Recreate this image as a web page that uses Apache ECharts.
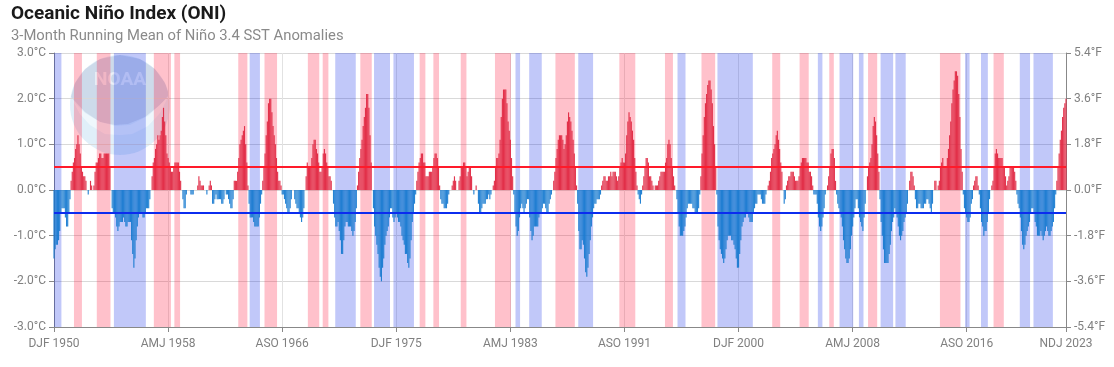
<!DOCTYPE html>
<html>
<head>
<meta charset="utf-8">
<script src="https://cdn.jsdelivr.net/npm/echarts@6/dist/echarts.min.js"></script>
<style>
  html, body { margin: 0; padding: 0; background: #fff; }
  #chart { width: 1114px; height: 367px; }
</style>
</head>
<body>
<div id="chart"></div>
<script>
// ---- DATA ----
const seasons = ['DJF','JFM','FMA','MAM','AMJ','MJJ','JJA','JAS','ASO','SON','OND','NDJ'];
const firstYear = 1950;
const lastYear = 2023;

// ONI values (°C), one row per year, DJF ... NDJ
const oni = [
 -1.5,-1.3,-1.2,-1.2,-1.1,-0.9,-0.5,-0.4,-0.4,-0.4,-0.6,-0.8, // 1950
 -0.8,-0.5,-0.2, 0.2, 0.4, 0.6, 0.7, 0.9, 1.0, 1.2, 1.0, 0.8, // 1951
  0.5, 0.4, 0.3, 0.3, 0.2, 0.0,-0.1, 0.0, 0.2, 0.1, 0.0, 0.1, // 1952
  0.4, 0.6, 0.6, 0.7, 0.8, 0.8, 0.7, 0.7, 0.8, 0.8, 0.8, 0.8, // 1953
  0.8, 0.5, 0.0,-0.4,-0.5,-0.5,-0.6,-0.8,-0.9,-0.8,-0.7,-0.7, // 1954
 -0.7,-0.6,-0.7,-0.8,-0.8,-0.7,-0.7,-0.7,-1.1,-1.4,-1.7,-1.5, // 1955
 -1.1,-0.8,-0.6,-0.5,-0.5,-0.5,-0.6,-0.6,-0.5,-0.4,-0.4,-0.4, // 1956
 -0.2, 0.0, 0.3, 0.6, 0.7, 0.9, 1.0, 1.2, 1.1, 1.2, 1.3, 1.6, // 1957
  1.8, 1.5, 1.2, 0.8, 0.7, 0.6, 0.5, 0.4, 0.4, 0.5, 0.6, 0.6, // 1958
  0.6, 0.6, 0.4, 0.2, 0.0,-0.2,-0.4,-0.4,-0.1, 0.0, 0.0, 0.0, // 1959
 -0.1,-0.1,-0.1, 0.0, 0.0, 0.0, 0.1, 0.3, 0.2, 0.1, 0.1, 0.1, // 1960
  0.0, 0.0,-0.1, 0.0, 0.1, 0.2, 0.1,-0.3,-0.3,-0.2,-0.1,-0.2, // 1961
 -0.2,-0.2,-0.2,-0.3,-0.3,-0.2, 0.0,-0.1,-0.1,-0.2,-0.3,-0.4, // 1962
 -0.4,-0.2, 0.2, 0.2, 0.2, 0.4, 0.7, 1.0, 1.1, 1.2, 1.3, 1.4, // 1963
  1.0, 0.6, 0.1,-0.3,-0.6,-0.6,-0.6,-0.7,-0.8,-0.8,-0.8,-0.8, // 1964
 -0.6,-0.3,-0.1, 0.2, 0.5, 0.8, 1.2, 1.5, 1.9, 2.0, 2.0, 1.7, // 1965
  1.4, 1.2, 1.0, 0.7, 0.4, 0.2, 0.2, 0.1,-0.1,-0.1,-0.2,-0.3, // 1966
 -0.4,-0.5,-0.5,-0.4,-0.2, 0.0, 0.0,-0.2,-0.3,-0.4,-0.4,-0.5, // 1967
 -0.6,-0.7,-0.6,-0.4, 0.0, 0.3, 0.6, 0.5, 0.5, 0.5, 0.7, 1.0, // 1968
  1.1, 1.1, 0.9, 0.8, 0.6, 0.4, 0.4, 0.5, 0.8, 0.9, 0.8, 0.6, // 1969
  0.5, 0.3, 0.3, 0.2, 0.0,-0.3,-0.6,-0.8,-0.8,-0.7,-0.9,-1.1, // 1970
 -1.4,-1.4,-1.1,-0.8,-0.7,-0.7,-0.8,-0.8,-0.8,-0.9,-1.0,-0.9, // 1971
 -0.7,-0.4, 0.1, 0.4, 0.7, 0.9, 1.1, 1.4, 1.6, 1.8, 2.1, 2.1, // 1972
  1.8, 1.2, 0.6, 0.0,-0.4,-0.8,-1.0,-1.2,-1.4,-1.7,-1.9,-2.0, // 1973
 -1.7,-1.5,-1.2,-1.0,-0.9,-0.8,-0.6,-0.4,-0.4,-0.6,-0.7,-0.6, // 1974
 -0.5,-0.6,-0.7,-0.7,-0.8,-1.0,-1.1,-1.2,-1.4,-1.4,-1.6,-1.7, // 1975
 -1.5,-1.1,-0.7,-0.5,-0.3,-0.1, 0.2, 0.4, 0.6, 0.7, 0.8, 0.8, // 1976
  0.6, 0.6, 0.3, 0.3, 0.3, 0.4, 0.4, 0.4, 0.5, 0.7, 0.8, 0.8, // 1977
  0.7, 0.5, 0.1,-0.2,-0.3,-0.3,-0.4,-0.4,-0.4,-0.3,-0.1, 0.0, // 1978
  0.0, 0.1, 0.2, 0.3, 0.2, 0.0, 0.0, 0.2, 0.3, 0.5, 0.5, 0.6, // 1979
  0.6, 0.5, 0.3, 0.4, 0.5, 0.5, 0.3, 0.0,-0.1, 0.0, 0.1, 0.0, // 1980
 -0.3,-0.5,-0.5,-0.4,-0.3,-0.3,-0.3,-0.2,-0.2,-0.1,-0.2,-0.1, // 1981
  0.0, 0.1, 0.2, 0.5, 0.7, 0.7, 0.8, 1.1, 1.6, 2.0, 2.2, 2.2, // 1982
  2.2, 1.9, 1.5, 1.3, 1.1, 0.7, 0.3,-0.1,-0.5,-0.8,-1.0,-0.9, // 1983
 -0.6,-0.4,-0.3,-0.4,-0.5,-0.4,-0.3,-0.2,-0.2,-0.6,-0.9,-1.1, // 1984
 -1.0,-0.8,-0.8,-0.8,-0.8,-0.6,-0.5,-0.5,-0.4,-0.3,-0.3,-0.4, // 1985
 -0.5,-0.5,-0.3,-0.2,-0.1, 0.0, 0.2, 0.4, 0.7, 0.9, 1.1, 1.2, // 1986
  1.2, 1.2, 1.1, 0.9, 1.0, 1.2, 1.5, 1.7, 1.6, 1.5, 1.3, 1.1, // 1987
  0.8, 0.5, 0.1,-0.3,-0.9,-1.3,-1.3,-1.1,-1.2,-1.5,-1.8,-1.9, // 1988
 -1.7,-1.4,-1.1,-0.8,-0.6,-0.4,-0.3,-0.3,-0.2,-0.2,-0.2,-0.1, // 1989
  0.1, 0.2, 0.3, 0.3, 0.2, 0.2, 0.3, 0.3, 0.4, 0.3, 0.4, 0.4, // 1990
  0.4, 0.3, 0.2, 0.3, 0.5, 0.6, 0.7, 0.6, 0.6, 0.8, 1.2, 1.5, // 1991
  1.7, 1.6, 1.5, 1.3, 1.1, 0.7, 0.4, 0.1,-0.1,-0.2,-0.3,-0.1, // 1992
  0.1, 0.3, 0.5, 0.7, 0.7, 0.6, 0.3, 0.3, 0.2, 0.1, 0.0, 0.1, // 1993
  0.1, 0.1, 0.2, 0.3, 0.4, 0.4, 0.4, 0.4, 0.6, 0.7, 1.0, 1.1, // 1994
  1.0, 0.7, 0.5, 0.3, 0.1, 0.0,-0.2,-0.5,-0.8,-1.0,-1.0,-1.0, // 1995
 -0.9,-0.8,-0.6,-0.4,-0.3,-0.3,-0.3,-0.3,-0.4,-0.4,-0.5,-0.5, // 1996
 -0.5,-0.4,-0.1, 0.3, 0.8, 1.2, 1.6, 1.9, 2.1, 2.3, 2.4, 2.4, // 1997
  2.2, 1.9, 1.4, 1.0, 0.5,-0.1,-0.8,-1.1,-1.3,-1.4,-1.5,-1.6, // 1998
 -1.5,-1.3,-1.1,-1.0,-1.0,-1.0,-1.1,-1.1,-1.2,-1.3,-1.5,-1.7, // 1999
 -1.7,-1.4,-1.1,-0.8,-0.7,-0.6,-0.6,-0.5,-0.5,-0.6,-0.7,-0.7, // 2000
 -0.7,-0.5,-0.4,-0.3,-0.3,-0.1,-0.1,-0.1,-0.2,-0.3,-0.3,-0.3, // 2001
 -0.1, 0.0, 0.1, 0.2, 0.4, 0.7, 0.8, 0.9, 1.0, 1.2, 1.3, 1.1, // 2002
  0.9, 0.6, 0.4, 0.0,-0.3,-0.2, 0.1, 0.2, 0.3, 0.3, 0.4, 0.4, // 2003
  0.4, 0.3, 0.2, 0.2, 0.2, 0.3, 0.5, 0.6, 0.7, 0.7, 0.7, 0.7, // 2004
  0.6, 0.6, 0.4, 0.4, 0.3, 0.1,-0.1,-0.1,-0.1,-0.3,-0.6,-0.8, // 2005
 -0.9,-0.8,-0.6,-0.4,-0.1, 0.0, 0.1, 0.3, 0.5, 0.8, 0.9, 0.9, // 2006
  0.7, 0.2,-0.1,-0.3,-0.4,-0.5,-0.6,-0.8,-1.1,-1.3,-1.5,-1.6, // 2007
 -1.6,-1.5,-1.3,-1.0,-0.8,-0.6,-0.4,-0.2,-0.2,-0.4,-0.6,-0.7, // 2008
 -0.8,-0.9,-0.6,-0.3, 0.0, 0.3, 0.5, 0.6, 0.7, 1.0, 1.4, 1.6, // 2009
  1.5, 1.2, 0.8, 0.4,-0.2,-0.7,-1.0,-1.3,-1.6,-1.6,-1.6,-1.6, // 2010
 -1.4,-1.2,-0.9,-0.7,-0.6,-0.4,-0.5,-0.6,-0.8,-1.0,-1.1,-1.0, // 2011
 -0.9,-0.7,-0.6,-0.5,-0.3, 0.0, 0.2, 0.4, 0.4, 0.3, 0.1,-0.2, // 2012
 -0.4,-0.4,-0.3,-0.3,-0.4,-0.4,-0.4,-0.3,-0.3,-0.2,-0.2,-0.3, // 2013
 -0.4,-0.5,-0.3, 0.0, 0.2, 0.2, 0.0, 0.1, 0.2, 0.5, 0.6, 0.7, // 2014
  0.5, 0.5, 0.5, 0.7, 0.9, 1.2, 1.5, 1.9, 2.2, 2.4, 2.6, 2.6, // 2015
  2.5, 2.1, 1.6, 0.9, 0.4,-0.1,-0.4,-0.5,-0.6,-0.7,-0.7,-0.6, // 2016
 -0.3,-0.2, 0.1, 0.2, 0.3, 0.3, 0.1,-0.1,-0.4,-0.7,-0.8,-1.0, // 2017
 -0.9,-0.9,-0.7,-0.5,-0.2, 0.0, 0.1, 0.2, 0.5, 0.8, 0.9, 0.8, // 2018
  0.7, 0.7, 0.7, 0.7, 0.5, 0.5, 0.3, 0.1, 0.2, 0.3, 0.5, 0.5, // 2019
  0.5, 0.5, 0.4, 0.2,-0.1,-0.3,-0.4,-0.6,-0.9,-1.2,-1.3,-1.2, // 2020
 -1.0,-0.9,-0.8,-0.7,-0.5,-0.4,-0.4,-0.5,-0.7,-0.8,-1.0,-1.0, // 2021
 -1.0,-0.9,-1.0,-1.1,-1.0,-0.9,-0.8,-0.9,-1.0,-1.0,-0.9,-0.8, // 2022
 -0.7,-0.4,-0.1, 0.2, 0.5, 0.8, 1.1, 1.3, 1.6, 1.8, 1.9, 2.0  // 2023
];

// Shaded episodes [first season, last season]
const elNinoEpisodes = [
  ['JJA 1951','DJF 1952'], ['FMA 1953','JFM 1954'], ['AMJ 1957','JJA 1958'],
  ['OND 1958','FMA 1959'], ['JJA 1963','JFM 1964'], ['MJJ 1965','MAM 1966'],
  ['JAS 1968','AMJ 1969'], ['ASO 1969','DJF 1970'], ['MJJ 1972','FMA 1973'],
  ['SON 1976','JFM 1977'], ['SON 1977','JFM 1978'], ['SON 1979','JFM 1980'],
  ['MAM 1982','AMJ 1983'], ['ASO 1986','DJF 1988'], ['AMJ 1991','MJJ 1992'],
  ['ASO 1994','FMA 1995'], ['AMJ 1997','MAM 1998'], ['JJA 2002','DJF 2003'],
  ['JJA 2004','JFM 2005'], ['ASO 2006','NDJ 2006'], ['JJA 2009','JFM 2010'],
  ['SON 2014','FMA 2016'], ['ASO 2018','AMJ 2019']
];
const laNinaEpisodes = [
  ['DJF 1950','JJA 1950'], ['MJJ 1954','ASO 1956'], ['AMJ 1964','DJF 1965'],
  ['JAS 1970','DJF 1972'], ['MJJ 1973','JJA 1974'], ['OND 1974','MAM 1976'],
  ['SON 1983','DJF 1984'], ['SON 1984','JAS 1985'], ['AMJ 1988','AMJ 1989'],
  ['JAS 1995','JFM 1996'], ['JJA 1998','DJF 2001'], ['OND 2005','JFM 2006'],
  ['MJJ 2007','AMJ 2008'], ['OND 2008','JFM 2009'], ['MJJ 2010','MAM 2011'],
  ['JJA 2011','FMA 2012'], ['JAS 2016','OND 2016'], ['SON 2017','FMA 2018'],
  ['JAS 2020','MAM 2021'], ['JAS 2021','NDJ 2022']
];

const thresholds = [0.5, -0.5];
const yTicksC = { min: -3, max: 3, interval: 1 };
const yTicksF = { min: -5.4, max: 5.4, interval: 1.8 };
const labelEvery = 100;

// ---- BUILD ----
const categories = [];
for (let y = firstYear; y <= lastYear; y++) seasons.forEach(s => categories.push(s + ' ' + y));
const lastIdx = categories.length - 1;
const showTick = i => i % labelEvery === 0 || i === lastIdx;

const RED = '#e0243f', BLUE = '#1478cf';
const PINK_BAND = 'rgba(255,0,40,0.245)', BLUE_BAND = 'rgba(0,30,230,0.245)';

function bands(list, color) {
  return list.map(([a, b]) => [
    { xAxis: categories.indexOf(a) - 0.5, itemStyle: { color } },
    { xAxis: categories.indexOf(b) + 0.5 }
  ]);
}

const FONT = 'Roboto';
const chart = echarts.init(document.getElementById('chart'), null, { renderer: 'canvas' });

chart.setOption({
  animation: false,
  textStyle: { fontFamily: FONT },
  title: {
    text: 'Oceanic Niño Index (ONI)',
    subtext: '3-Month Running Mean of Niño 3.4 SST Anomalies',
    left: 6, top: 0,
    itemGap: 5,
    textStyle: { fontFamily: FONT, fontSize: 19, fontWeight: 'bold', color: '#1a1a1a' },
    subtextStyle: { fontFamily: FONT, fontSize: 14.8, color: '#8a8a8a' }
  },
  grid: { left: 54, right: 48, top: 53, bottom: 40, containLabel: false },
  xAxis: [{
    type: 'category',
    data: categories,
    boundaryGap: false,
    axisLine: { onZero: false, lineStyle: { color: '#888', width: 1 } },
    axisTick: { show: true, interval: i => showTick(i), length: 5, lineStyle: { color: '#888' } },
    axisLabel: { interval: i => showTick(i), color: '#808080', fontSize: 12, margin: 11, fontFamily: FONT },
    splitLine: { show: true, interval: i => showTick(i), lineStyle: { color: '#e2e2e2', width: 1 } }
  }, {
    type: 'value', min: 0, max: lastIdx, show: false
  }],
  yAxis: [{
    type: 'value', position: 'left',
    min: yTicksC.min, max: yTicksC.max, interval: yTicksC.interval,
    axisLine: { show: true, lineStyle: { color: '#888' } },
    axisTick: { show: true, length: 5, lineStyle: { color: '#888' } },
    axisLabel: { formatter: v => v.toFixed(1) + '°C', color: '#808080', fontSize: 12, margin: 8, fontFamily: FONT },
    splitLine: { show: true, lineStyle: { color: '#d9d9d9', width: 1 } }
  }, {
    type: 'value', position: 'right',
    min: yTicksF.min, max: yTicksF.max, interval: yTicksF.interval,
    axisLine: { show: true, lineStyle: { color: '#888' } },
    axisTick: { show: true, length: 5, lineStyle: { color: '#888' } },
    axisLabel: { formatter: v => (Math.abs(v) < 1e-9 ? 0 : v).toFixed(1) + '°F', color: '#808080', fontSize: 12, margin: 8, fontFamily: FONT },
    splitLine: { show: false }
  }],
  series: [{
    type: 'line',
    xAxisIndex: 1, yAxisIndex: 0,
    data: [[0, 0]],
    symbol: 'none', lineStyle: { opacity: 0 },
    silent: true, z: 1,
    markArea: {
      silent: true,
      data: bands(elNinoEpisodes, PINK_BAND).concat(bands(laNinaEpisodes, BLUE_BAND))
    }
  }, {
    type: 'bar',
    xAxisIndex: 0, yAxisIndex: 0,
    data: oni,
    barCategoryGap: '0%',
    z: 3,
    itemStyle: {
      color: p => (p.value >= 0 ? RED : BLUE),
      opacity: 0.92
    },
    markLine: {
      silent: true, symbol: 'none', label: { show: false },
      data: [
        { yAxis: thresholds[0], lineStyle: { color: '#ff1a2a', width: 2, type: 'solid' } },
        { yAxis: thresholds[1], lineStyle: { color: '#0b2cef', width: 2, type: 'solid' } }
      ]
    }
  }],
  graphic: [{
    type: 'group', x: 120, y: 105, z: 100, silent: true,
    children: [
      { type: 'circle', shape: { cx: 0, cy: 0, r: 50 }, style: { fill: 'rgba(160,205,235,0.32)' } },
      { type: 'polygon', shape: { points: [[-49,-8],[-45,-22],[-35,-36],[-20,-46],[0,-50],[20,-46],[35,-36],[45,-22],[49,-10],[40,0],[25,12],[8,19],[-5,20],[-20,17],[-35,7]] },
        style: { fill: 'rgba(90,95,140,0.14)' } },
      { type: 'polygon', shape: { points: [[-47,-4],[-35,8],[-20,17],[-5,21],[10,20],[28,11],[48,-8],[40,8],[28,21],[12,29],[0,30],[-15,29],[-30,20],[-40,9]] },
        style: { fill: 'rgba(255,255,255,0.5)' } },
      { type: 'text', x: 0, y: -25,
        style: { text: 'NOAA', fill: 'rgba(255,255,255,0.6)', font: 'bold 19px ' + FONT, align: 'center', verticalAlign: 'middle' } }
    ]
  }]
});
</script>
</body>
</html>
